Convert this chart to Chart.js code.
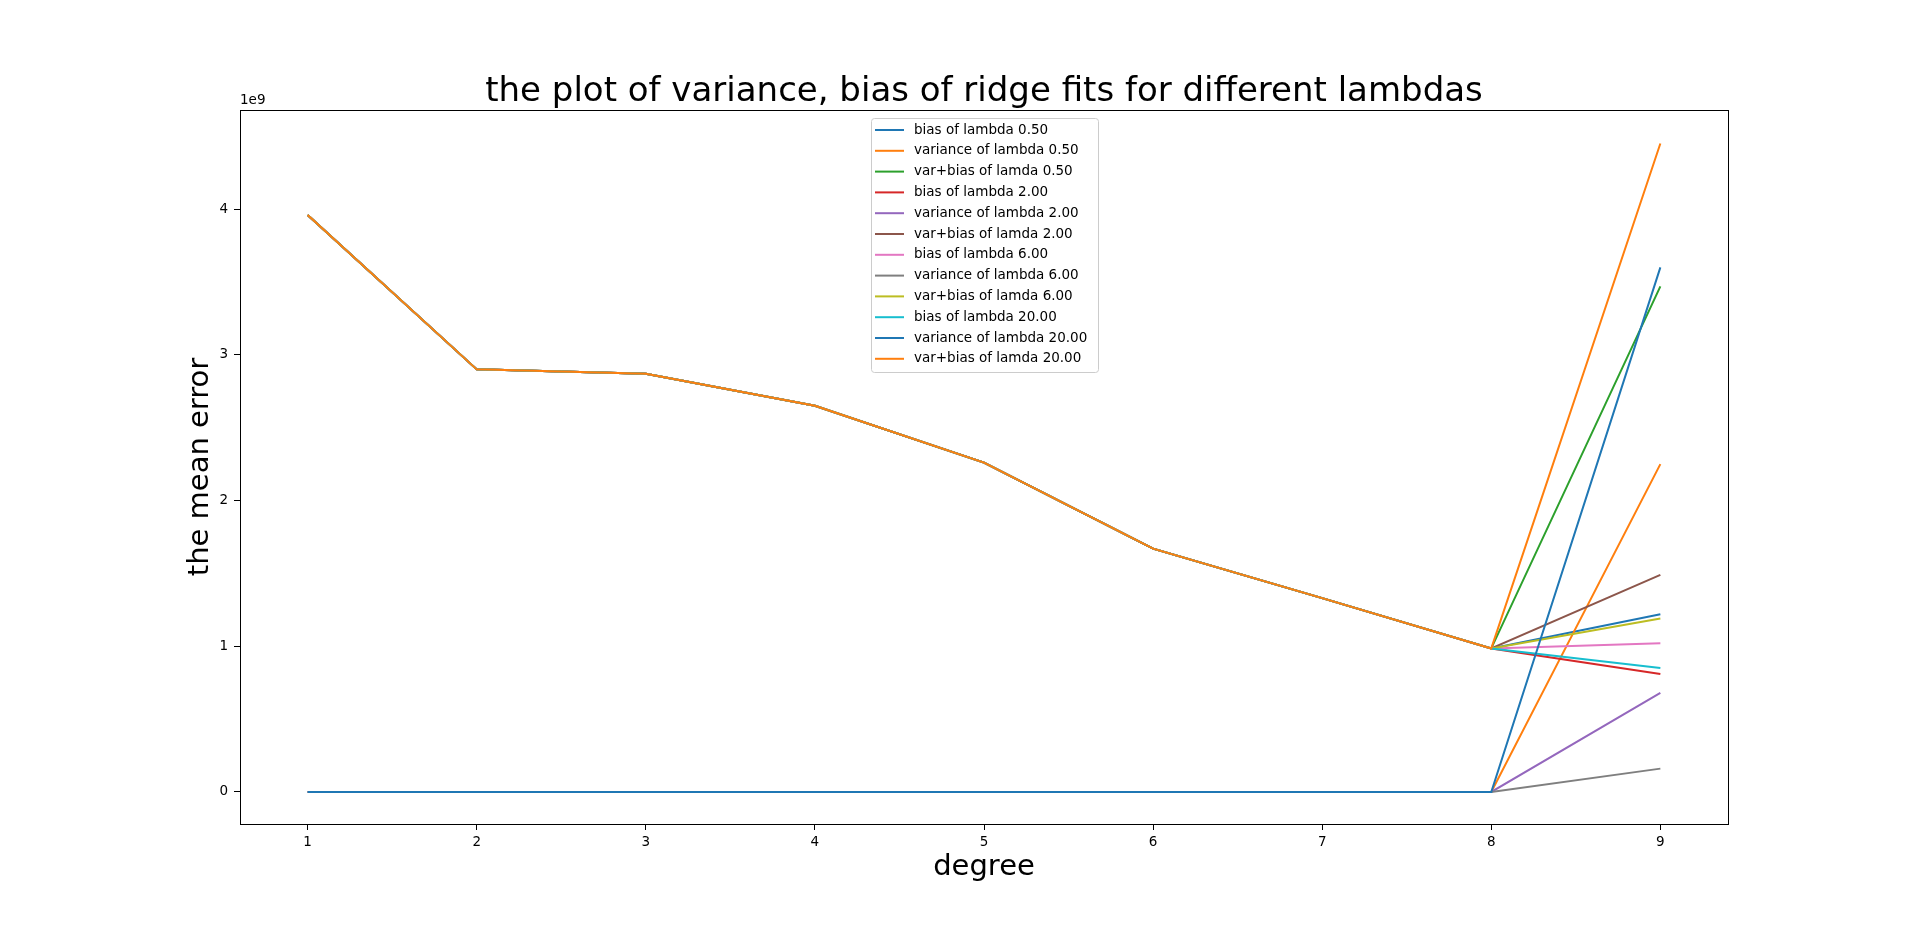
<!DOCTYPE html>
<html><head><meta charset="utf-8">
<script src="https://cdn.jsdelivr.net/npm/chart.js@4"></script>
<style>html,body{margin:0;padding:0;background:#fff}#c{display:block}</style>
</head><body>
<div style="width:1920px;height:927px"><canvas id="c" width="1920" height="927"></canvas></div>
<script>
const degrees=[1,2,3,4,5,6,7,8,9];
const baseBias=[3.96,2.90,2.87,2.65,2.26,1.67,1.33,0.985];
const bias05=[...baseBias,1.22];
const var05=[0,0,0,0,0,0,0,0,2.25];
const tot05=[...baseBias,3.47];
const bias2=[...baseBias,0.81];
const var2=[0,0,0,0,0,0,0,0,0.68];
const tot2=[...baseBias,1.49];
const bias6=[...baseBias,1.02];
const var6=[0,0,0,0,0,0,0,0,0.16];
const tot6=[...baseBias,1.19];
const bias20=[...baseBias,0.85];
const var20=[0,0,0,0,0,0,0,0,3.60];
const tot20=[...baseBias,4.45];
const yTicks=[0,1,2,3,4];
const labels=['bias of lambda 0.50','variance of lambda 0.50','var+bias of lamda 0.50','bias of lambda 2.00','variance of lambda 2.00','var+bias of lamda 2.00','bias of lambda 6.00','variance of lambda 6.00','var+bias of lamda 6.00','bias of lambda 20.00','variance of lambda 20.00','var+bias of lamda 20.00'];
const series=[bias05,var05,tot05,bias2,var2,tot2,bias6,var6,tot6,bias20,var20,tot20];
const colors=['#1f77b4','#ff7f0e','#2ca02c','#d62728','#9467bd','#8c564b','#e377c2','#7f7f7f','#bcbd22','#17becf','#1f77b4','#ff7f0e'];
const F='"DejaVu Sans"';
const datasets=series.map((s,i)=>({label:labels[i],data:s.map((v,j)=>({x:degrees[j],y:v})),borderColor:colors[i],backgroundColor:colors[i],borderWidth:2,pointRadius:0,tension:0,order:12-i}));
const deco={id:'deco',afterDraw(ch){
 const c=ch.ctx,a=ch.chartArea;
 c.save();
 c.strokeStyle='#000';c.lineWidth=1;c.strokeRect(a.left+0.5,a.top+0.5,a.right-a.left,a.bottom-a.top);
 c.fillStyle='#000';c.textAlign='center';c.textBaseline='middle';
 c.font='34px '+F;c.fillText('the plot of variance, bias of ridge fits for different lambdas',(a.left+a.right)/2,92);
 c.font='29px '+F;c.fillText('degree',(a.left+a.right)/2,867);
 c.save();c.translate(200,(a.top+a.bottom)/2);c.rotate(-Math.PI/2);c.fillText('the mean error',0,0);c.restore();
 c.font='13.5px '+F;c.textAlign='left';c.textBaseline='bottom';c.fillText('1e9',a.left,a.top-3);
 // legend
 const lx=871,ly=118,lw=227,lh=254;
 c.fillStyle='rgba(255,255,255,0.8)';c.strokeStyle='#ccc';c.lineWidth=1;
 c.beginPath();c.roundRect(lx+0.5,ly+0.5,lw,lh,3);c.fill();c.stroke();
 c.textBaseline='middle';c.font='13.5px '+F;
 ch.data.datasets.forEach((d,i)=>{const y=ly+12+i*20.8;
  c.strokeStyle=d.borderColor;c.lineWidth=2;c.beginPath();c.moveTo(lx+4,y);c.lineTo(lx+33,y);c.stroke();
  c.fillStyle='#000';c.fillText(d.label,lx+43,y);});
 c.restore();}};
new Chart(document.getElementById('c'),{type:'line',data:{datasets},plugins:[deco],
options:{responsive:false,animation:false,
 layout:{padding:{top:110,right:192,left:0,bottom:0}},
 plugins:{legend:{display:false},tooltip:{enabled:false}},
 scales:{
  x:{type:'linear',min:0.6,max:9.4,afterBuildTicks:s=>{s.ticks=degrees.map(v=>({value:v}));},
   afterFit:s=>{s.height=103;},
   grid:{drawOnChartArea:false,drawTicks:true,tickLength:6,color:'#000'},border:{color:'#000'},
   ticks:{color:'#000',font:{family:'DejaVu Sans',size:13.5},padding:4,maxRotation:0}},
  y:{type:'linear',min:-0.22,max:4.68,afterBuildTicks:s=>{s.ticks=yTicks.map(v=>({value:v}));},
   afterFit:s=>{s.width=240;},
   grid:{drawOnChartArea:false,drawTicks:true,tickLength:6,color:'#000'},border:{color:'#000'},
   ticks:{color:'#000',font:{family:'DejaVu Sans',size:13.5},padding:6}}
 }}});
</script>
</body></html>
